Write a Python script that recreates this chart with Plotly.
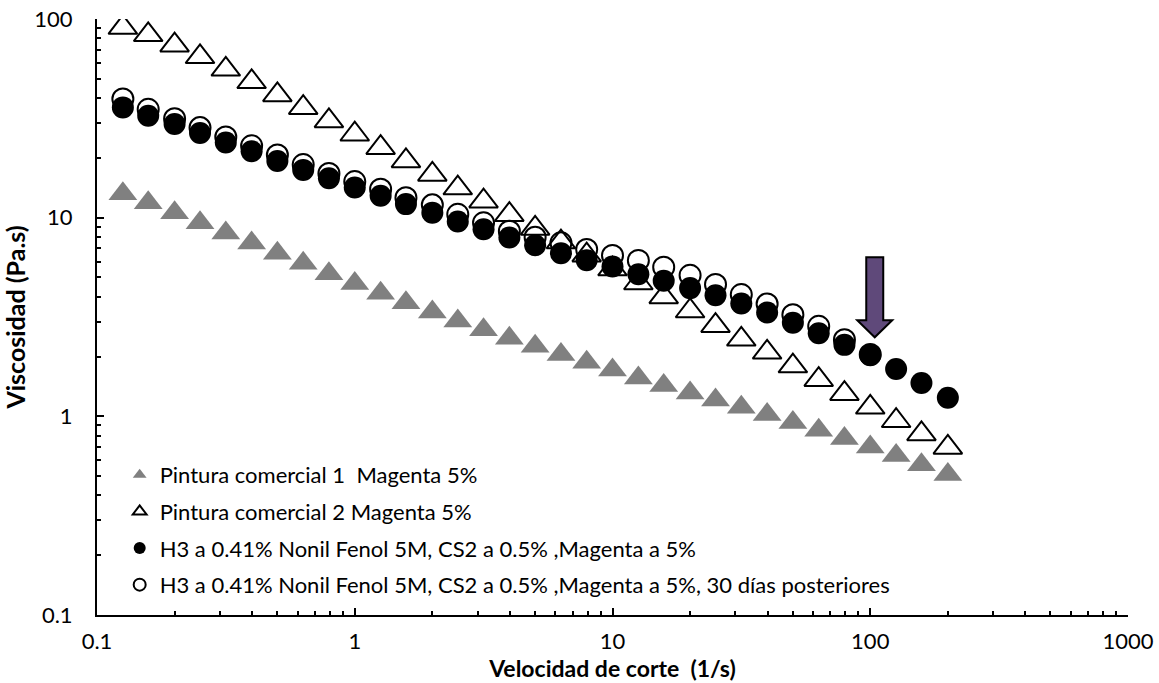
import plotly.graph_objects as go

# Shear rate (1/s)
shear = [0.126, 0.158, 0.2, 0.251, 0.316, 0.398, 0.501, 0.631, 0.794, 1.0,
         1.26, 1.58, 2.0, 2.51, 3.16, 3.98, 5.01, 6.31, 7.94, 10.0,
         12.6, 15.8, 20.0, 25.1, 31.6, 39.8, 50.1, 63.1, 79.4, 100.0,
         126.0, 158.0, 200.0]

# Viscosity (Pa.s) for each formulation
visc_comercial_1 = [13.2, 11.9, 10.6, 9.44, 8.38, 7.46, 6.62, 5.89, 5.22, 4.66,
                    4.17, 3.73, 3.35, 3.02, 2.73, 2.47, 2.25, 2.05, 1.87, 1.71,
                    1.56, 1.43, 1.31, 1.21, 1.11, 1.02, 0.931, 0.852, 0.773, 0.701,
                    0.635, 0.570, 0.509]
visc_comercial_2 = [90.6, 83.2, 73.8, 64.5, 55.8, 48.3, 41.5, 35.8, 30.7, 26.3,
                    22.5, 19.3, 16.5, 14.1, 12.1, 10.35, 8.83, 7.54, 6.47, 5.51,
                    4.69, 3.99, 3.39, 2.86, 2.44, 2.10, 1.79, 1.53, 1.30, 1.11,
                    0.95, 0.815, 0.697]
visc_h3 = [35.9, 32.6, 29.6, 26.7, 23.9, 21.6, 19.3, 17.4, 15.8, 14.2,
           12.9, 11.7, 10.6, 9.57, 8.75, 7.95, 7.27, 6.62, 6.11, 5.68,
           5.19, 4.81, 4.42, 4.07, 3.70, 3.33, 2.96, 2.62, 2.29, 2.03,
           1.73, 1.47, 1.24]
visc_h3_30d = [39.6, 35.1, 31.5, 28.4, 25.5, 23.0, 20.7, 18.5, 16.7, 15.2,
               13.9, 12.6, 11.6, 10.4, 9.42, 8.55, 7.98, 7.47, 6.92, 6.45,
               6.09, 5.63, 5.13, 4.61, 4.10, 3.68, 3.25, 2.84, 2.43, 2.05]

names = [
    "Pintura comercial 1  Magenta 5%",
    "Pintura comercial 2 Magenta 5%",
    "H3 a 0.41% Nonil Fenol 5M, CS2 a 0.5% ,Magenta a 5%",
    "H3 a 0.41% Nonil Fenol 5M, CS2 a 0.5% ,Magenta a 5%, 30 días posteriores",
]

FONT = "Lato"

fig = go.Figure()
fig.add_trace(go.Scatter(
    x=shear, y=visc_comercial_1, mode="markers", name=names[0], legendgroup="a",
    marker=dict(symbol="triangle-up", size=25, color="#808080", line=dict(width=0))))
fig.add_trace(go.Scatter(
    x=shear, y=visc_comercial_2, mode="markers", name=names[1], legendgroup="b",
    marker=dict(symbol="triangle-up-open", size=25, color="black", line=dict(width=2))))
fig.add_trace(go.Scatter(
    x=shear, y=visc_h3, mode="markers", name=names[2], legendgroup="c",
    marker=dict(symbol="circle", size=22, color="black", line=dict(width=0))))
fig.add_trace(go.Scatter(
    x=shear[:len(visc_h3_30d)], y=visc_h3_30d, mode="markers", name=names[3], legendgroup="d",
    marker=dict(symbol="circle-open", size=21, color="black", line=dict(width=2))))

# Downward arrow pointing at the 100 1/s measurement
idx = shear.index(100.0)
fig.add_shape(
    type="path", xref="x", yref="y",
    xsizemode="pixel", ysizemode="pixel",
    xanchor=shear[idx], yanchor=visc_h3[idx],
    path="M -4,98 L 13,98 L 13,35 L 22,35 L 4.5,18 L -13,35 L -4,35 Z",
    fillcolor="#5F497A", line=dict(color="black", width=2))

axis_common = dict(
    type="log", showline=True, linecolor="black", linewidth=2,
    ticks="inside", ticklen=7, tickwidth=1.5, tickcolor="black",
    showgrid=False, zeroline=False, dtick=1, exponentformat="none",
    automargin=False,
    tickfont=dict(family=FONT, size=22, color="black"),
    minor=dict(ticks="inside", ticklen=4, tickwidth=1.5, tickcolor="black",
               dtick="D1", showgrid=False),
)

fig.update_xaxes(
    range=[-1, 3], ticklabelstandoff=6,
    title=dict(text="<b>Velocidad de corte  (1/s)</b>", standoff=6,
               font=dict(family=FONT, size=23, color="black")),
    **axis_common)
fig.update_yaxes(
    range=[-1, 2], ticklabelstandoff=18,
    title=dict(text="<b>Viscosidad (Pa.s)</b>", standoff=2,
               font=dict(family=FONT, size=25, color="black")),
    **axis_common)

fig.update_layout(
    width=1159, height=683,
    margin=dict(l=97, r=31, t=19, b=68),
    paper_bgcolor="white", plot_bgcolor="white",
    font=dict(family=FONT, color="black"),
    legend=dict(
        x=0.022, y=0.015, xanchor="left", yanchor="bottom",
        bgcolor="rgba(0,0,0,0)", itemsizing="constant", tracegroupgap=5,
        font=dict(family=FONT, size=22, color="black"),
    ),
)

fig.write_html("out.html")
